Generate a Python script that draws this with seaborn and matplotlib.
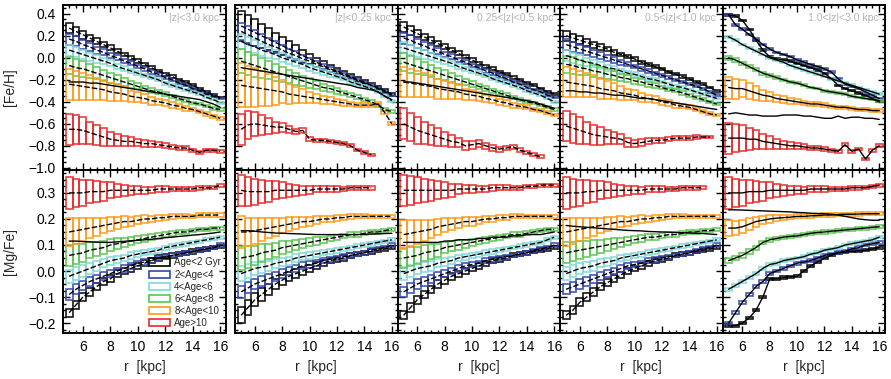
import numpy as np
import matplotlib
matplotlib.use("Agg")
import matplotlib.pyplot as plt
from matplotlib.patches import Patch
from matplotlib.ticker import MultipleLocator, AutoMinorLocator, FuncFormatter
import seaborn as sns

# Radial bin centres (kpc); each bin is 0.5 kpc wide
R_BINS = [5.0, 5.5, 6.0, 6.5, 7.0, 7.5, 8.0, 8.5, 9.0, 9.5, 10.0, 10.5,
          11.0, 11.5, 12.0, 12.5, 13.0, 13.5, 14.0, 14.5, 15.0, 15.5, 16.0]
BIN_WIDTH = 0.5

AGE_LABELS = ["Age<2 Gyr", "2<Age<4", "4<Age<6", "6<Age<8", "8<Age<10", "Age>10"]
AGE_COLORS = ["#000000", "#3344aa", "#80d8d8", "#5cc452", "#ff9a1a", "#e62a2a"]
PANEL_TITLES = ["|z|<3.0 kpc", "|z|<0.25 kpc", "0.25<|z|<0.5 kpc",
                "0.5<|z|<1.0 kpc", "1.0<|z|<3.0 kpc"]
NAN = float("nan")

# ---------------- [Fe/H] mean profiles, one list per age group ----------------
FEH_Z_ALL = [
    [0.27, 0.24, 0.21, 0.18, 0.15, 0.12, 0.09, 0.06, 0.03, 0.00, -0.03, -0.06, -0.09, -0.12, -0.15, -0.17, -0.20, -0.22, -0.25, -0.28, -0.31, -0.34, -0.36],
    [0.17, 0.15, 0.12, 0.10, 0.07, 0.05, 0.02, 0.00, -0.03, -0.05, -0.08, -0.10, -0.13, -0.15, -0.18, -0.20, -0.23, -0.25, -0.28, -0.30, -0.33, -0.35, -0.37],
    [0.07, 0.05, 0.03, 0.01, -0.01, -0.03, -0.05, -0.08, -0.10, -0.12, -0.14, -0.16, -0.18, -0.20, -0.23, -0.25, -0.27, -0.29, -0.31, -0.33, -0.36, -0.38, -0.41],
    [-0.07, -0.09, -0.10, -0.12, -0.14, -0.16, -0.18, -0.20, -0.22, -0.24, -0.26, -0.28, -0.30, -0.31, -0.33, -0.35, -0.37, -0.39, -0.41, -0.42, -0.44, -0.46, -0.47],
    [-0.24, -0.25, -0.26, -0.27, -0.28, -0.29, -0.31, -0.32, -0.33, -0.35, -0.36, -0.37, -0.39, -0.40, -0.41, -0.43, -0.44, -0.46, -0.47, -0.49, -0.51, -0.53, -0.55],
    [-0.65, -0.65, -0.66, -0.68, -0.70, -0.72, -0.74, -0.75, -0.76, -0.76, -0.77, -0.78, -0.78, -0.79, -0.80, -0.81, -0.82, -0.82, -0.84, -0.86, -0.84, -0.84, -0.85],
]
FEH_Z_0_025 = [
    [0.29, 0.26, 0.23, 0.20, 0.17, 0.14, 0.11, 0.08, 0.05, 0.02, -0.01, -0.04, -0.07, -0.10, -0.12, -0.15, -0.17, -0.20, -0.22, -0.25, -0.27, -0.30, -0.33],
    [0.24, 0.21, 0.18, 0.15, 0.12, 0.10, 0.07, 0.04, 0.02, -0.01, -0.03, -0.06, -0.08, -0.11, -0.13, -0.16, -0.18, -0.21, -0.23, -0.25, -0.28, -0.31, -0.34],
    [0.15, 0.12, 0.10, 0.07, 0.05, 0.03, 0.00, -0.02, -0.04, -0.06, -0.09, -0.11, -0.13, -0.15, -0.17, -0.19, -0.22, -0.24, -0.26, -0.28, -0.31, -0.35, -0.39],
    [-0.03, -0.05, -0.07, -0.09, -0.11, -0.13, -0.15, -0.17, -0.19, -0.21, -0.23, -0.25, -0.27, -0.28, -0.30, -0.32, -0.34, -0.36, -0.38, -0.40, -0.43, -0.47, -0.49],
    [-0.25, -0.26, -0.27, -0.28, -0.29, -0.30, -0.31, -0.33, -0.34, -0.35, -0.36, -0.37, -0.38, -0.39, -0.40, -0.41, -0.42, -0.43, -0.43, -0.43, -0.42, -0.50, -0.60],
    [-0.65, -0.61, -0.60, -0.61, -0.62, -0.63, -0.63, -0.65, -0.67, -0.66, -0.74, -0.75, -0.75, -0.76, -0.77, -0.78, -0.80, -0.84, -0.86, -0.88, NAN, NAN, NAN],
]
FEH_Z_025_05 = [
    [0.28, 0.25, 0.22, 0.19, 0.16, 0.13, 0.10, 0.07, 0.04, 0.01, -0.02, -0.05, -0.08, -0.10, -0.13, -0.15, -0.18, -0.20, -0.23, -0.25, -0.28, -0.31, -0.33],
    [0.18, 0.16, 0.13, 0.11, 0.08, 0.06, 0.03, 0.01, -0.02, -0.04, -0.07, -0.09, -0.12, -0.14, -0.17, -0.19, -0.22, -0.24, -0.27, -0.29, -0.31, -0.34, -0.36],
    [0.09, 0.07, 0.05, 0.03, 0.01, -0.01, -0.03, -0.05, -0.08, -0.10, -0.12, -0.14, -0.16, -0.19, -0.21, -0.23, -0.25, -0.27, -0.30, -0.32, -0.34, -0.37, -0.40],
    [-0.04, -0.06, -0.08, -0.10, -0.12, -0.14, -0.16, -0.18, -0.20, -0.22, -0.24, -0.26, -0.28, -0.30, -0.32, -0.34, -0.36, -0.38, -0.40, -0.41, -0.43, -0.45, -0.47],
    [-0.22, -0.23, -0.24, -0.25, -0.26, -0.28, -0.29, -0.30, -0.31, -0.33, -0.34, -0.35, -0.37, -0.38, -0.40, -0.41, -0.43, -0.44, -0.45, -0.47, -0.48, -0.50, -0.52],
    [-0.60, -0.63, -0.66, -0.68, -0.70, -0.72, -0.74, -0.76, -0.77, -0.80, -0.79, -0.78, -0.80, -0.82, -0.83, -0.82, -0.81, -0.84, -0.86, -0.88, -0.90, NAN, NAN],
]
FEH_Z_05_1 = [
    [0.20, 0.18, 0.16, 0.14, 0.12, 0.10, 0.08, 0.05, 0.03, 0.01, -0.01, -0.04, -0.06, -0.08, -0.10, -0.13, -0.15, -0.17, -0.19, -0.22, -0.24, -0.27, -0.30],
    [0.12, 0.10, 0.08, 0.06, 0.04, 0.02, 0.00, -0.02, -0.04, -0.06, -0.08, -0.10, -0.12, -0.14, -0.16, -0.18, -0.20, -0.22, -0.24, -0.26, -0.28, -0.31, -0.34],
    [0.02, 0.00, -0.02, -0.04, -0.05, -0.07, -0.09, -0.10, -0.12, -0.14, -0.15, -0.17, -0.19, -0.20, -0.22, -0.24, -0.26, -0.27, -0.29, -0.31, -0.33, -0.35, -0.37],
    [-0.06, -0.07, -0.09, -0.10, -0.12, -0.13, -0.15, -0.16, -0.18, -0.19, -0.21, -0.22, -0.24, -0.25, -0.27, -0.29, -0.30, -0.32, -0.34, -0.36, -0.38, -0.40, -0.42],
    [-0.22, -0.23, -0.24, -0.25, -0.26, -0.28, -0.29, -0.30, -0.32, -0.33, -0.34, -0.36, -0.37, -0.38, -0.40, -0.41, -0.43, -0.44, -0.45, -0.47, -0.49, -0.51, -0.52],
    [-0.62, -0.64, -0.66, -0.68, -0.70, -0.71, -0.72, -0.73, -0.74, -0.77, -0.78, -0.77, -0.76, -0.75, -0.75, -0.74, -0.73, -0.73, -0.73, -0.72, -0.72, -0.72, NAN],
]
FEH_Z_1_3 = [
    [0.39, 0.38, 0.34, 0.26, 0.16, 0.07, 0.01, -0.01, -0.02, -0.03, -0.05, -0.07, -0.09, -0.11, -0.14, -0.19, -0.25, -0.28, -0.30, -0.32, -0.34, -0.37, -0.40],
    [0.39, 0.30, 0.26, 0.21, 0.17, 0.12, 0.08, 0.05, 0.03, 0.01, -0.02, -0.04, -0.06, -0.08, -0.10, -0.13, -0.19, -0.24, -0.26, -0.28, -0.31, -0.34, -0.37],
    [0.19, 0.16, 0.12, 0.09, 0.06, 0.03, 0.00, -0.02, -0.04, -0.07, -0.09, -0.11, -0.13, -0.15, -0.17, -0.19, -0.21, -0.23, -0.25, -0.27, -0.29, -0.31, -0.33],
    [0.00, -0.02, -0.05, -0.08, -0.11, -0.14, -0.16, -0.18, -0.20, -0.22, -0.23, -0.25, -0.27, -0.28, -0.30, -0.31, -0.32, -0.33, -0.35, -0.36, -0.37, -0.38, -0.39],
    [-0.27, -0.28, -0.28, -0.30, -0.32, -0.34, -0.35, -0.37, -0.38, -0.39, -0.40, -0.41, -0.42, -0.42, -0.43, -0.44, -0.45, -0.45, -0.46, -0.47, -0.47, -0.48, -0.48],
    [-0.73, -0.73, -0.73, -0.74, -0.74, -0.76, -0.77, -0.78, -0.79, -0.80, -0.80, -0.81, -0.82, -0.82, -0.83, -0.84, -0.85, -0.79, -0.85, -0.83, -0.92, -0.84, -0.80],
]
FEH_MEANS = [FEH_Z_ALL, FEH_Z_0_025, FEH_Z_025_05, FEH_Z_05_1, FEH_Z_1_3]

# [Fe/H] of all stars together in each |z| slice
FEH_ALL_STARS = [
    [-0.22, -0.22, -0.22, -0.23, -0.23, -0.24, -0.25, -0.26, -0.27, -0.28, -0.29, -0.30, -0.31, -0.32, -0.33, -0.34, -0.35, -0.36, -0.37, -0.38, -0.40, -0.42, -0.45],
    [-0.09, -0.10, -0.11, -0.12, -0.13, -0.14, -0.15, -0.16, -0.17, -0.18, -0.19, -0.20, -0.21, -0.22, -0.23, -0.24, -0.25, -0.27, -0.28, -0.29, -0.31, -0.35, -0.38],
    [-0.22, -0.22, -0.23, -0.24, -0.25, -0.26, -0.27, -0.28, -0.29, -0.30, -0.31, -0.32, -0.33, -0.34, -0.35, -0.36, -0.37, -0.38, -0.39, -0.40, -0.42, -0.44, -0.46],
    [-0.30, -0.30, -0.31, -0.31, -0.32, -0.32, -0.33, -0.34, -0.34, -0.35, -0.36, -0.37, -0.37, -0.38, -0.39, -0.40, -0.41, -0.42, -0.43, -0.44, -0.45, -0.46, -0.47],
    [-0.51, -0.50, -0.51, -0.52, -0.52, -0.53, -0.53, -0.53, -0.52, -0.52, -0.52, -0.53, -0.53, -0.54, -0.55, -0.55, -0.53, -0.55, -0.54, -0.54, -0.55, -0.55, -0.56],
]

# ---------------- [Fe/H] half-spread per bin ----------------
FEH_ERR_MID = [
    [0.045, 0.040, 0.035, 0.030, 0.027, 0.025, 0.022, 0.020, 0.018, 0.016, 0.015, 0.014, 0.013, 0.012, 0.011, 0.010, 0.010, 0.010, 0.009, 0.009, 0.008, 0.008, 0.008],
    [0.050, 0.045, 0.040, 0.036, 0.032, 0.029, 0.026, 0.023, 0.021, 0.019, 0.017, 0.016, 0.015, 0.014, 0.013, 0.012, 0.011, 0.010, 0.010, 0.009, 0.009, 0.008, 0.008],
    [0.050, 0.046, 0.042, 0.038, 0.034, 0.030, 0.027, 0.024, 0.022, 0.020, 0.018, 0.016, 0.015, 0.014, 0.013, 0.012, 0.011, 0.010, 0.010, 0.009, 0.009, 0.008, 0.008],
    [0.080, 0.075, 0.070, 0.060, 0.055, 0.050, 0.045, 0.040, 0.035, 0.030, 0.028, 0.025, 0.022, 0.020, 0.018, 0.016, 0.015, 0.014, 0.012, 0.012, 0.010, 0.010, 0.010],
    [0.140, 0.130, 0.120, 0.110, 0.100, 0.090, 0.080, 0.070, 0.060, 0.050, 0.045, 0.040, 0.035, 0.030, 0.028, 0.025, 0.022, 0.020, 0.018, 0.016, 0.015, 0.014, 0.012],
    [0.140, 0.130, 0.120, 0.100, 0.090, 0.080, 0.065, 0.055, 0.045, 0.040, 0.035, 0.030, 0.028, 0.025, 0.022, 0.020, 0.018, 0.016, 0.015, 0.014, 0.013, 0.012, 0.012],
]
FEH_ERR_THIN = [
    [0.140, 0.130, 0.120, 0.110, 0.100, 0.090, 0.080, 0.070, 0.062, 0.055, 0.048, 0.042, 0.037, 0.033, 0.029, 0.026, 0.023, 0.021, 0.019, 0.017, 0.016, 0.015, 0.014],
    [0.080, 0.075, 0.070, 0.064, 0.058, 0.052, 0.047, 0.042, 0.038, 0.034, 0.030, 0.027, 0.024, 0.022, 0.020, 0.018, 0.016, 0.015, 0.014, 0.013, 0.012, 0.011, 0.010],
    [0.070, 0.065, 0.060, 0.055, 0.050, 0.045, 0.041, 0.037, 0.033, 0.030, 0.027, 0.024, 0.022, 0.020, 0.018, 0.016, 0.015, 0.014, 0.013, 0.012, 0.011, 0.010, 0.010],
    [0.110, 0.105, 0.100, 0.092, 0.085, 0.077, 0.070, 0.062, 0.055, 0.048, 0.042, 0.037, 0.032, 0.028, 0.025, 0.022, 0.020, 0.018, 0.016, 0.015, 0.014, 0.013, 0.012],
    [0.200, 0.190, 0.175, 0.160, 0.145, 0.125, 0.105, 0.090, 0.075, 0.062, 0.052, 0.044, 0.037, 0.032, 0.028, 0.024, 0.021, 0.019, 0.017, 0.016, 0.015, 0.014, 0.013],
    [0.140, 0.130, 0.110, 0.090, 0.070, 0.050, 0.040, 0.030, 0.025, 0.020, 0.018, 0.016, 0.015, 0.014, 0.013, 0.012, 0.012, 0.011, 0.011, 0.010, 0.010, 0.010, 0.010],
]
FEH_ERR_HIGH = [
    [0.006, 0.006, 0.006, 0.006, 0.006, 0.006, 0.006, 0.006, 0.006, 0.006, 0.006, 0.006, 0.006, 0.006, 0.006, 0.006, 0.006, 0.006, 0.006, 0.006, 0.006, 0.006, 0.006],
    [0.007, 0.007, 0.007, 0.007, 0.007, 0.007, 0.007, 0.007, 0.007, 0.007, 0.007, 0.007, 0.007, 0.007, 0.007, 0.007, 0.007, 0.007, 0.007, 0.007, 0.007, 0.007, 0.007],
    [0.008, 0.008, 0.008, 0.008, 0.008, 0.008, 0.008, 0.008, 0.008, 0.008, 0.008, 0.008, 0.008, 0.008, 0.008, 0.008, 0.008, 0.008, 0.008, 0.008, 0.008, 0.008, 0.008],
    [0.020, 0.018, 0.016, 0.014, 0.013, 0.012, 0.011, 0.010, 0.010, 0.009, 0.009, 0.009, 0.008, 0.008, 0.008, 0.008, 0.008, 0.008, 0.008, 0.008, 0.008, 0.008, 0.008],
    [0.100, 0.090, 0.080, 0.070, 0.060, 0.050, 0.042, 0.035, 0.030, 0.026, 0.022, 0.020, 0.018, 0.016, 0.015, 0.014, 0.013, 0.012, 0.011, 0.010, 0.010, 0.010, 0.010],
    [0.140, 0.130, 0.120, 0.100, 0.085, 0.070, 0.055, 0.045, 0.038, 0.032, 0.027, 0.023, 0.020, 0.018, 0.016, 0.015, 0.014, 0.013, 0.012, 0.012, 0.012, 0.012, 0.012],
]
FEH_ERRS = [FEH_ERR_MID, FEH_ERR_THIN, FEH_ERR_MID, FEH_ERR_MID, FEH_ERR_HIGH]

# ---------------- [Mg/Fe] mean profiles, one list per age group ----------------
MGFE_Z_ALL = [
    [-0.16, -0.13, -0.10, -0.08, -0.06, -0.04, -0.03, -0.01, 0.00, 0.01, 0.02, 0.03, 0.04, 0.05, 0.055, 0.06, 0.065, 0.07, 0.075, 0.08, 0.085, 0.09, 0.095],
    [-0.09, -0.07, -0.055, -0.04, -0.03, -0.02, -0.01, 0.00, 0.01, 0.02, 0.03, 0.035, 0.04, 0.05, 0.055, 0.06, 0.065, 0.07, 0.075, 0.08, 0.085, 0.09, 0.10],
    [-0.02, -0.01, 0.00, 0.01, 0.02, 0.03, 0.04, 0.045, 0.05, 0.06, 0.065, 0.07, 0.075, 0.08, 0.09, 0.095, 0.10, 0.105, 0.11, 0.115, 0.12, 0.125, 0.13],
    [0.06, 0.065, 0.07, 0.08, 0.085, 0.09, 0.10, 0.105, 0.11, 0.115, 0.12, 0.125, 0.13, 0.135, 0.14, 0.145, 0.15, 0.15, 0.155, 0.16, 0.16, 0.165, 0.165],
    [0.15, 0.155, 0.16, 0.165, 0.17, 0.175, 0.18, 0.185, 0.19, 0.19, 0.195, 0.20, 0.20, 0.205, 0.205, 0.21, 0.21, 0.21, 0.21, 0.215, 0.215, 0.215, 0.215],
    [0.30, 0.30, 0.30, 0.305, 0.305, 0.305, 0.31, 0.31, 0.31, 0.31, 0.31, 0.31, 0.31, 0.315, 0.315, 0.315, 0.315, 0.315, 0.315, 0.32, 0.32, 0.32, 0.33],
]
MGFE_Z_0_025 = [
    [-0.17, -0.14, -0.11, -0.09, -0.07, -0.05, -0.035, -0.02, -0.01, 0.00, 0.01, 0.02, 0.03, 0.04, 0.045, 0.05, 0.06, 0.065, 0.07, 0.075, 0.08, 0.085, 0.09],
    [-0.08, -0.065, -0.05, -0.04, -0.03, -0.02, -0.01, 0.00, 0.01, 0.02, 0.025, 0.03, 0.04, 0.045, 0.05, 0.055, 0.06, 0.065, 0.07, 0.08, 0.085, 0.09, 0.10],
    [-0.01, 0.00, 0.01, 0.015, 0.02, 0.03, 0.035, 0.04, 0.05, 0.055, 0.06, 0.065, 0.07, 0.075, 0.08, 0.085, 0.09, 0.095, 0.10, 0.105, 0.11, 0.115, 0.12],
    [0.05, 0.055, 0.06, 0.07, 0.075, 0.08, 0.09, 0.095, 0.10, 0.105, 0.11, 0.115, 0.12, 0.125, 0.13, 0.135, 0.14, 0.14, 0.145, 0.15, 0.15, 0.155, 0.16],
    [0.15, 0.15, 0.155, 0.16, 0.165, 0.17, 0.175, 0.18, 0.185, 0.19, 0.19, 0.195, 0.20, 0.20, 0.205, 0.205, 0.21, 0.21, 0.21, 0.21, 0.21, 0.21, 0.21],
    [0.31, 0.305, 0.305, 0.305, 0.305, 0.31, 0.31, 0.31, 0.31, 0.31, 0.31, 0.315, 0.315, 0.315, 0.315, 0.315, 0.32, 0.32, 0.32, 0.32, NAN, NAN, NAN],
]
MGFE_Z_025_05 = [
    [-0.17, -0.14, -0.11, -0.09, -0.07, -0.05, -0.035, -0.02, -0.01, 0.00, 0.01, 0.02, 0.03, 0.04, 0.045, 0.05, 0.06, 0.065, 0.07, 0.075, 0.08, 0.085, 0.09],
    [-0.08, -0.065, -0.05, -0.04, -0.03, -0.02, -0.01, 0.00, 0.01, 0.02, 0.025, 0.03, 0.04, 0.045, 0.05, 0.055, 0.06, 0.065, 0.07, 0.08, 0.085, 0.09, 0.10],
    [-0.01, 0.00, 0.01, 0.015, 0.02, 0.03, 0.035, 0.04, 0.05, 0.055, 0.06, 0.065, 0.07, 0.075, 0.08, 0.085, 0.09, 0.095, 0.10, 0.105, 0.11, 0.12, 0.13],
    [0.05, 0.055, 0.06, 0.07, 0.075, 0.08, 0.09, 0.095, 0.10, 0.105, 0.11, 0.115, 0.12, 0.125, 0.13, 0.135, 0.14, 0.14, 0.145, 0.15, 0.155, 0.16, 0.16],
    [0.14, 0.145, 0.15, 0.155, 0.16, 0.17, 0.175, 0.18, 0.185, 0.19, 0.19, 0.195, 0.20, 0.20, 0.205, 0.205, 0.21, 0.21, 0.21, 0.21, 0.21, 0.21, 0.21],
    [0.31, 0.31, 0.31, 0.31, 0.31, 0.31, 0.31, 0.31, 0.315, 0.315, 0.315, 0.315, 0.315, 0.32, 0.32, 0.32, 0.32, 0.32, 0.325, 0.325, 0.33, 0.33, 0.33],
]
MGFE_Z_05_1 = [
    [-0.17, -0.15, -0.12, -0.10, -0.08, -0.06, -0.045, -0.03, -0.015, 0.00, 0.01, 0.02, 0.03, 0.04, 0.045, 0.05, 0.06, 0.065, 0.07, 0.075, 0.08, 0.085, 0.09],
    [-0.07, -0.06, -0.05, -0.04, -0.03, -0.02, -0.01, 0.00, 0.01, 0.02, 0.025, 0.03, 0.04, 0.045, 0.05, 0.055, 0.06, 0.065, 0.07, 0.08, 0.085, 0.09, 0.10],
    [-0.01, 0.00, 0.01, 0.015, 0.02, 0.03, 0.035, 0.04, 0.05, 0.055, 0.06, 0.065, 0.07, 0.075, 0.08, 0.085, 0.09, 0.095, 0.10, 0.105, 0.11, 0.115, 0.12],
    [0.07, 0.075, 0.08, 0.085, 0.09, 0.095, 0.10, 0.105, 0.11, 0.115, 0.12, 0.125, 0.13, 0.13, 0.135, 0.14, 0.14, 0.145, 0.15, 0.15, 0.155, 0.155, 0.16],
    [0.15, 0.155, 0.16, 0.165, 0.17, 0.175, 0.18, 0.185, 0.19, 0.19, 0.195, 0.20, 0.20, 0.205, 0.205, 0.21, 0.21, 0.21, 0.21, 0.21, 0.21, 0.21, 0.21],
    [0.30, 0.30, 0.30, 0.305, 0.305, 0.31, 0.31, 0.31, 0.31, 0.31, 0.31, 0.31, 0.315, 0.315, 0.315, 0.315, 0.315, 0.32, 0.32, 0.32, 0.32, NAN, NAN],
]
MGFE_Z_1_3 = [
    [-0.21, -0.21, -0.20, -0.18, -0.15, -0.10, -0.03, -0.03, -0.025, -0.022, -0.02, 0.00, 0.02, 0.035, 0.05, 0.06, 0.07, 0.073, 0.076, 0.078, 0.08, 0.085, 0.09],
    [-0.20, -0.16, -0.12, -0.09, -0.06, -0.04, -0.01, 0.00, 0.01, 0.02, 0.03, 0.035, 0.04, 0.05, 0.06, 0.065, 0.07, 0.075, 0.085, 0.09, 0.10, 0.105, 0.11],
    [-0.07, -0.055, -0.04, -0.025, -0.01, 0.01, 0.025, 0.03, 0.04, 0.045, 0.05, 0.055, 0.065, 0.07, 0.08, 0.085, 0.09, 0.10, 0.105, 0.11, 0.115, 0.12, 0.13],
    [0.04, 0.05, 0.06, 0.075, 0.09, 0.11, 0.12, 0.125, 0.13, 0.133, 0.135, 0.14, 0.145, 0.148, 0.15, 0.153, 0.155, 0.158, 0.16, 0.163, 0.165, 0.168, 0.17],
    [0.165, 0.165, 0.17, 0.18, 0.19, 0.195, 0.20, 0.203, 0.205, 0.207, 0.21, 0.21, 0.212, 0.213, 0.215, 0.215, 0.217, 0.218, 0.218, 0.219, 0.22, 0.22, 0.22],
    [0.30, 0.30, 0.30, 0.305, 0.305, 0.305, 0.31, 0.31, 0.31, 0.31, 0.31, 0.31, 0.315, 0.315, 0.315, 0.315, 0.315, 0.315, 0.32, 0.32, 0.32, 0.325, 0.33],
]
MGFE_MEANS = [MGFE_Z_ALL, MGFE_Z_0_025, MGFE_Z_025_05, MGFE_Z_05_1, MGFE_Z_1_3]

MGFE_ALL_STARS = [
    [0.115, 0.115, 0.113, 0.112, 0.111, 0.110, 0.110, 0.112, 0.114, 0.116, 0.118, 0.120, 0.122, 0.125, 0.128, 0.130, 0.133, 0.135, 0.138, 0.140, 0.143, 0.146, 0.150],
    [0.155, 0.155, 0.153, 0.150, 0.148, 0.146, 0.145, 0.144, 0.143, 0.142, 0.141, 0.140, 0.140, 0.140, 0.140, 0.140, 0.140, 0.140, 0.141, 0.142, 0.143, 0.144, 0.145],
    [0.110, 0.110, 0.110, 0.110, 0.110, 0.110, 0.115, 0.115, 0.120, 0.120, 0.120, 0.125, 0.125, 0.130, 0.130, 0.130, 0.135, 0.135, 0.140, 0.140, 0.140, 0.145, 0.150],
    [0.175, 0.172, 0.170, 0.168, 0.166, 0.164, 0.162, 0.160, 0.158, 0.156, 0.155, 0.154, 0.152, 0.151, 0.150, 0.149, 0.148, 0.147, 0.146, 0.145, 0.144, 0.142, 0.140],
    [0.235, 0.235, 0.234, 0.233, 0.232, 0.231, 0.230, 0.229, 0.228, 0.227, 0.225, 0.224, 0.222, 0.221, 0.220, 0.218, 0.215, 0.210, 0.205, 0.200, 0.197, 0.195, 0.195],
]

# ---------------- [Mg/Fe] half-spread per bin ----------------
MGFE_ERR_MID = [
    [0.016, 0.016, 0.015, 0.015, 0.014, 0.014, 0.013, 0.013, 0.012, 0.012, 0.011, 0.011, 0.010, 0.010, 0.009, 0.009, 0.008, 0.008, 0.008, 0.007, 0.007, 0.007, 0.006],
    [0.020, 0.019, 0.018, 0.017, 0.016, 0.015, 0.014, 0.013, 0.012, 0.011, 0.010, 0.010, 0.009, 0.009, 0.008, 0.008, 0.007, 0.007, 0.007, 0.006, 0.006, 0.006, 0.006],
    [0.025, 0.024, 0.022, 0.020, 0.018, 0.016, 0.015, 0.014, 0.013, 0.012, 0.011, 0.010, 0.009, 0.009, 0.008, 0.008, 0.007, 0.007, 0.007, 0.006, 0.006, 0.006, 0.006],
    [0.040, 0.037, 0.034, 0.031, 0.028, 0.025, 0.022, 0.020, 0.018, 0.016, 0.014, 0.013, 0.012, 0.011, 0.010, 0.009, 0.008, 0.008, 0.007, 0.007, 0.007, 0.006, 0.006],
    [0.055, 0.050, 0.045, 0.040, 0.035, 0.030, 0.027, 0.024, 0.020, 0.018, 0.016, 0.014, 0.012, 0.011, 0.010, 0.009, 0.008, 0.008, 0.007, 0.007, 0.006, 0.006, 0.006],
    [0.060, 0.055, 0.050, 0.045, 0.040, 0.035, 0.030, 0.025, 0.020, 0.017, 0.015, 0.013, 0.012, 0.011, 0.010, 0.009, 0.008, 0.008, 0.007, 0.007, 0.006, 0.006, 0.006],
]
MGFE_ERR_THIN = [
    [0.030, 0.028, 0.026, 0.024, 0.022, 0.020, 0.018, 0.017, 0.016, 0.015, 0.014, 0.013, 0.012, 0.011, 0.010, 0.010, 0.009, 0.009, 0.008, 0.008, 0.007, 0.007, 0.007],
    [0.022, 0.021, 0.020, 0.019, 0.018, 0.017, 0.016, 0.015, 0.014, 0.013, 0.012, 0.011, 0.010, 0.010, 0.009, 0.009, 0.008, 0.008, 0.007, 0.007, 0.007, 0.006, 0.006],
    [0.028, 0.026, 0.024, 0.022, 0.020, 0.018, 0.016, 0.015, 0.014, 0.013, 0.012, 0.011, 0.010, 0.009, 0.009, 0.008, 0.008, 0.007, 0.007, 0.007, 0.006, 0.006, 0.006],
    [0.045, 0.042, 0.038, 0.034, 0.030, 0.027, 0.024, 0.021, 0.019, 0.017, 0.015, 0.014, 0.012, 0.011, 0.010, 0.009, 0.009, 0.008, 0.008, 0.007, 0.007, 0.007, 0.006],
    [0.060, 0.055, 0.050, 0.045, 0.040, 0.035, 0.030, 0.026, 0.022, 0.019, 0.017, 0.015, 0.013, 0.012, 0.011, 0.010, 0.009, 0.008, 0.008, 0.007, 0.007, 0.006, 0.006],
    [0.060, 0.055, 0.050, 0.045, 0.040, 0.035, 0.030, 0.025, 0.020, 0.017, 0.015, 0.013, 0.012, 0.011, 0.010, 0.009, 0.008, 0.008, 0.007, 0.007, 0.006, 0.006, 0.006],
]
MGFE_ERR_HIGH = [
    [0.004, 0.004, 0.004, 0.004, 0.004, 0.004, 0.004, 0.004, 0.004, 0.004, 0.004, 0.004, 0.004, 0.004, 0.004, 0.004, 0.004, 0.004, 0.004, 0.004, 0.004, 0.004, 0.004],
    [0.005, 0.005, 0.005, 0.005, 0.005, 0.005, 0.005, 0.005, 0.005, 0.005, 0.005, 0.005, 0.005, 0.005, 0.005, 0.005, 0.005, 0.005, 0.005, 0.005, 0.005, 0.005, 0.005],
    [0.005, 0.005, 0.005, 0.005, 0.005, 0.005, 0.005, 0.005, 0.005, 0.005, 0.005, 0.005, 0.005, 0.005, 0.005, 0.005, 0.005, 0.005, 0.005, 0.005, 0.005, 0.005, 0.005],
    [0.010, 0.009, 0.009, 0.008, 0.008, 0.007, 0.007, 0.006, 0.006, 0.006, 0.006, 0.006, 0.006, 0.006, 0.006, 0.006, 0.006, 0.006, 0.006, 0.006, 0.006, 0.006, 0.006],
    [0.030, 0.028, 0.025, 0.022, 0.019, 0.016, 0.014, 0.012, 0.010, 0.009, 0.008, 0.008, 0.007, 0.007, 0.006, 0.006, 0.006, 0.006, 0.006, 0.006, 0.006, 0.006, 0.006],
    [0.060, 0.055, 0.050, 0.045, 0.040, 0.035, 0.030, 0.025, 0.020, 0.017, 0.015, 0.013, 0.012, 0.011, 0.010, 0.009, 0.008, 0.008, 0.007, 0.007, 0.006, 0.006, 0.006],
]
MGFE_ERRS = [MGFE_ERR_MID, MGFE_ERR_THIN, MGFE_ERR_MID, MGFE_ERR_MID, MGFE_ERR_HIGH]

# ---------------- figure ----------------
sns.set_theme(style="ticks")
plt.rcParams["font.family"] = ["Liberation Sans", "DejaVu Sans"]
plt.rcParams["axes.unicode_minus"] = True

FIG_W, FIG_H = 891, 379
fig = plt.figure(figsize=(FIG_W / 100, FIG_H / 100), dpi=100)

col_left = [63, 235, 397.5, 560, 722.5]
col_width = [163, 162.5, 162.5, 162.5, 162.5]
row_top = [5, 170]
row_height = [165, 163]


def minus_fmt(v, _pos):
    return f"{v:.1f}".replace("-", "\u2212")


def draw_panel(ax, means, errs, all_stars, dashed=True):
    r = np.array(R_BINS)
    for color, mean, err in zip(AGE_COLORS, means, errs):
        m = np.array(mean, dtype=float)
        e = np.array(err, dtype=float)
        ok = ~np.isnan(m)
        ax.bar(r[ok], 2 * e[ok], bottom=m[ok] - e[ok], width=BIN_WIDTH,
               fill=False, edgecolor=color, linewidth=1.2, alpha=0.9, zorder=2)
    style = (0, (4, 1.5)) if dashed else "-"
    for mean in means:
        sns.lineplot(x=R_BINS, y=mean, ax=ax, color="black", linewidth=1.0,
                     linestyle=style, zorder=3)
    sns.lineplot(x=R_BINS, y=all_stars, ax=ax, color="black", linewidth=1.0, zorder=3)


axes = []
for row in range(2):
    for col in range(5):
        rect = [col_left[col] / FIG_W,
                1 - (row_top[row] + row_height[row]) / FIG_H,
                col_width[col] / FIG_W,
                row_height[row] / FIG_H]
        ax = fig.add_axes(rect)
        axes.append(ax)
        dashed = col != 4
        if row == 0:
            draw_panel(ax, FEH_MEANS[col], FEH_ERRS[col], FEH_ALL_STARS[col], dashed)
            ax.set_ylim(-1.02, 0.48)
            ax.yaxis.set_major_locator(MultipleLocator(0.2))
            ax.yaxis.set_minor_locator(AutoMinorLocator(4))
            ax.text(0.96, 0.95, PANEL_TITLES[col], transform=ax.transAxes,
                    ha="right", va="top", fontsize=7.5, color="#b4b4b4")
        else:
            draw_panel(ax, MGFE_MEANS[col], MGFE_ERRS[col], MGFE_ALL_STARS[col], dashed)
            ax.set_ylim(-0.238, 0.388)
            ax.yaxis.set_major_locator(MultipleLocator(0.1))
            ax.yaxis.set_minor_locator(AutoMinorLocator(4))
            ax.set_xlabel("r  [kpc]", fontsize=10, labelpad=4)
        ax.set_xlim(4.55, 16.42)
        ax.xaxis.set_major_locator(MultipleLocator(2))
        ax.xaxis.set_minor_locator(AutoMinorLocator(4))
        ax.yaxis.set_major_formatter(FuncFormatter(minus_fmt))
        ax.tick_params(which="both", direction="in", top=True, right=True,
                       colors="black", width=1.0, labelsize=10, pad=5)
        ax.tick_params(which="major", length=5)
        ax.tick_params(which="minor", length=2.5)
        for sp in ax.spines.values():
            sp.set_linewidth(1.4)
            sp.set_color("black")
        if col != 0:
            ax.set_yticklabels([])
        if row == 0:
            ax.set_xticklabels([])
            ax.set_xlabel("")
        ax.set_ylabel("")

axes[0].set_ylabel("[Fe/H]", fontsize=10)
axes[5].set_ylabel("[Mg/Fe]", fontsize=10)
axes[0].yaxis.set_label_coords(-0.28, 0.5)
axes[5].yaxis.set_label_coords(-0.28, 0.5)

handles = [Patch(facecolor="none", edgecolor=c, linewidth=1.2) for c in AGE_COLORS]
axes[5].legend(handles, AGE_LABELS, loc="lower right", fontsize=7, frameon=False,
               handlelength=2.2, handleheight=0.75, labelspacing=0.22,
               handletextpad=0.4, borderpad=0.2, borderaxespad=0.3)

fig.savefig("out.png", dpi=100)
